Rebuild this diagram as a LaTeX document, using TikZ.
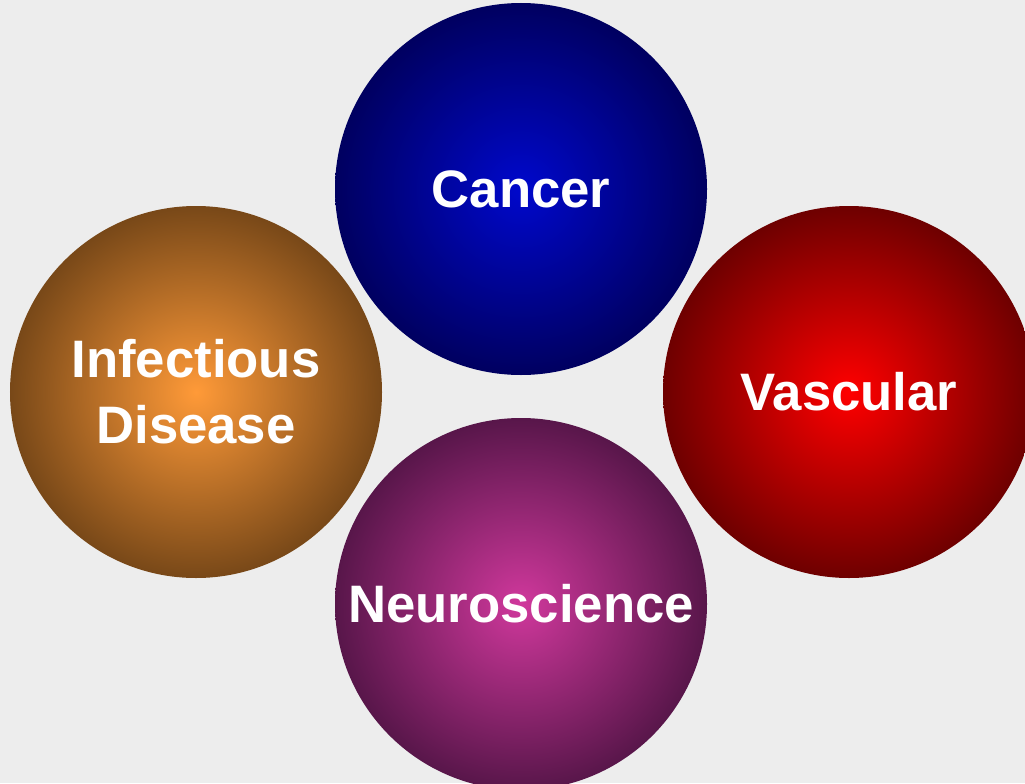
\documentclass[tikz,border=0pt]{standalone}
\usepackage{fontspec}
\setmainfont{Liberation Sans}
\usetikzlibrary{positioning}

\definecolor{bgGray}{HTML}{EDEDED}
\definecolor{cancerIn}{HTML}{0008CC}
\definecolor{cancerOut}{HTML}{000060}
\definecolor{vascIn}{HTML}{FF0000}
\definecolor{vascOut}{HTML}{6E0000}
\definecolor{infIn}{HTML}{FF9A38}
\definecolor{infOut}{HTML}{784818}
\definecolor{neuroIn}{HTML}{D0389C}
\definecolor{neuroOut}{HTML}{58164A}

\begin{document}
\begin{tikzpicture}[
    % Topic ball style
    ball/.style={
        circle,
        minimum size=7.44cm,
        inner sep=0pt,
        shading=radial,
        text=white,
        align=center,
        font=\fontsize{30}{37.5}\selectfont\bfseries
    }
]

% === Background ===
\fill[bgGray] (0, 0) rectangle (20.5, 15.66);
\useasboundingbox (0, 0) rectangle (20.5, 15.66);

% === Topic balls ===
\node[ball, inner color=cancerIn, outer color=cancerOut] (cancer) at (10.42, 11.88) {Cancer};
\node[ball, inner color=infIn, outer color=infOut] (infect) at (3.92, 7.82) {Infectious\\Disease};
\node[ball, inner color=vascIn, outer color=vascOut] (vasc) at (16.98, 7.82) {Vascular};
\node[ball, inner color=neuroIn, outer color=neuroOut] (neuro) at (10.42, 3.58) {Neuroscience};

\end{tikzpicture}
\end{document}
